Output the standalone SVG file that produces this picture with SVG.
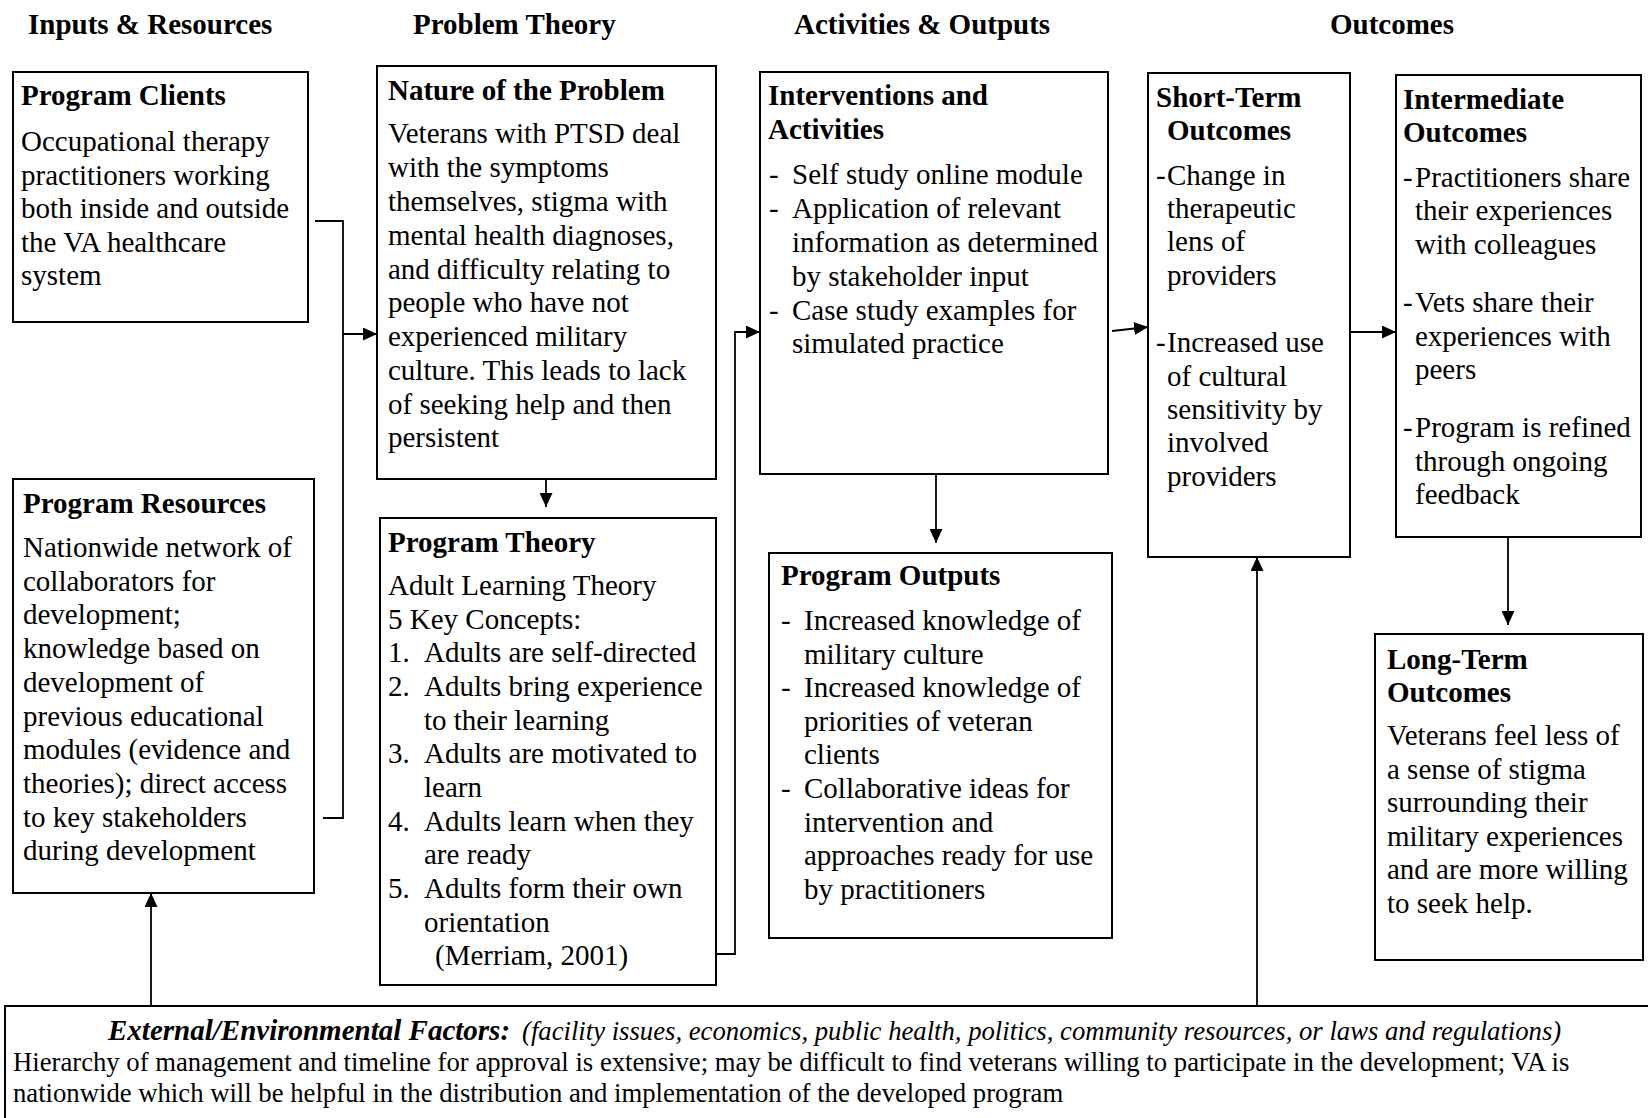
<svg xmlns="http://www.w3.org/2000/svg" width="1648" height="1118" viewBox="0 0 1648 1118">
<style>
text { font-family: "Liberation Serif", "Times New Roman", serif; font-size: 29px; fill: #000; }
.b { font-weight: bold; }
.box { fill: #fff; stroke: #000; stroke-width: 2; }
.con { fill: none; stroke: #000; stroke-width: 1.8; }
.sm { font-size: 26.7px; }
</style>
<defs>
<marker id="arr" markerUnits="userSpaceOnUse" markerWidth="14" markerHeight="13" refX="14" refY="6.5" orient="auto">
<path d="M0,0 L14,6.5 L0,13 Z" fill="#000"/>
</marker>
</defs>
<rect width="1648" height="1118" fill="#fff"/>

<g id="headers">
<text class="b" x="28" y="34">Inputs &amp; Resources</text>
<text class="b" x="413" y="34">Problem Theory</text>
<text class="b" x="794" y="34">Activities &amp; Outputs</text>
<text class="b" x="1330" y="34">Outcomes</text>
</g>

<g id="connectors">
<polyline class="con" points="315,221 343,221 343,818 323,818"/>
<line class="con" x1="343" y1="334" x2="377" y2="334" marker-end="url(#arr)"/>
<line class="con" x1="546" y1="479" x2="546" y2="507" marker-end="url(#arr)"/>
<polyline class="con" points="716,954 735,954 735,332 760,332" marker-end="url(#arr)"/>
<line class="con" x1="936" y1="474" x2="936" y2="543" marker-end="url(#arr)"/>
<line class="con" x1="1112" y1="331" x2="1148" y2="327" marker-end="url(#arr)"/>
<line class="con" x1="1351" y1="332" x2="1396" y2="332" marker-end="url(#arr)"/>
<line class="con" x1="1508" y1="537" x2="1508" y2="625" marker-end="url(#arr)"/>
<line class="con" x1="151" y1="1006" x2="151" y2="893" marker-end="url(#arr)"/>
<line class="con" x1="1257" y1="1006" x2="1257" y2="557" marker-end="url(#arr)"/>
</g>

<g id="program-clients">
<rect class="box" x="13" y="72" width="295" height="250"/>
<text class="b" x="21" y="105">Program Clients</text>
<text x="21" y="151">Occupational therapy</text>
<text x="21" y="184.5">practitioners working</text>
<text x="21" y="218">both inside and outside</text>
<text x="21" y="251.5">the VA healthcare</text>
<text x="21" y="285">system</text>
</g>

<g id="program-resources">
<rect class="box" x="13" y="479" width="301" height="414"/>
<text class="b" x="23" y="513">Program Resources</text>
<text x="23" y="557">Nationwide network of</text>
<text x="23" y="590.7">collaborators for</text>
<text x="23" y="624.4">development;</text>
<text x="23" y="658.1">knowledge based on</text>
<text x="23" y="691.8">development of</text>
<text x="23" y="725.5">previous educational</text>
<text x="23" y="759.2">modules (evidence and</text>
<text x="23" y="792.9">theories); direct access</text>
<text x="23" y="826.6">to key stakeholders</text>
<text x="23" y="860.3">during development</text>
</g>

<g id="nature-of-problem">
<rect class="box" x="377" y="66" width="339" height="413"/>
<text class="b" x="388" y="100">Nature of the Problem</text>
<text x="388" y="143">Veterans with PTSD deal</text>
<text x="388" y="177">with the symptoms</text>
<text x="388" y="211">themselves, stigma with</text>
<text x="388" y="244.5">mental health diagnoses,</text>
<text x="388" y="278.5">and difficulty relating to</text>
<text x="388" y="312">people who have not</text>
<text x="388" y="346">experienced military</text>
<text x="388" y="380">culture. This leads to lack</text>
<text x="388" y="413.5">of seeking help and then</text>
<text x="388" y="447">persistent</text>
</g>

<g id="program-theory">
<rect class="box" x="380" y="518" width="336" height="467"/>
<text class="b" x="388" y="552">Program Theory</text>
<text x="388" y="595">Adult Learning Theory</text>
<text x="388" y="628.5">5 Key Concepts:</text>
<text x="388" y="662">1.</text><text x="424" y="662">Adults are self-directed</text>
<text x="388" y="696">2.</text><text x="424" y="696">Adults bring experience</text>
<text x="424" y="729.5">to their learning</text>
<text x="388" y="763">3.</text><text x="424" y="763">Adults are motivated to</text>
<text x="424" y="797">learn</text>
<text x="388" y="831">4.</text><text x="424" y="831">Adults learn when they</text>
<text x="424" y="864">are ready</text>
<text x="388" y="898">5.</text><text x="424" y="898">Adults form their own</text>
<text x="424" y="932">orientation</text>
<text x="435" y="965">(Merriam, 2001)</text>
</g>

<g id="interventions">
<rect class="box" x="760" y="72" width="348" height="402"/>
<text class="b" x="768" y="105">Interventions and</text>
<text class="b" x="768" y="139">Activities</text>
<text x="769" y="184">-</text><text x="792" y="184">Self study online module</text>
<text x="769" y="218">-</text><text x="792" y="218">Application of relevant</text>
<text x="792" y="252">information as determined</text>
<text x="792" y="286">by stakeholder input</text>
<text x="769" y="319.5">-</text><text x="792" y="319.5">Case study examples for</text>
<text x="792" y="353">simulated practice</text>
</g>

<g id="program-outputs">
<rect class="box" x="769" y="553" width="343" height="385"/>
<text class="b" x="781" y="585">Program Outputs</text>
<text x="781" y="630">-</text><text x="804" y="630">Increased knowledge of</text>
<text x="804" y="663.5">military culture</text>
<text x="781" y="697">-</text><text x="804" y="697">Increased knowledge of</text>
<text x="804" y="730.5">priorities of veteran</text>
<text x="804" y="764">clients</text>
<text x="781" y="798">-</text><text x="804" y="798">Collaborative ideas for</text>
<text x="804" y="831.5">intervention and</text>
<text x="804" y="865">approaches ready for use</text>
<text x="804" y="898.5">by practitioners</text>
</g>

<g id="short-term">
<rect class="box" x="1148" y="73" width="202" height="484"/>
<text class="b" x="1156" y="107">Short-Term</text>
<text class="b" x="1167" y="140">Outcomes</text>
<text x="1156" y="184.5">-</text><text x="1167" y="184.5">Change in</text>
<text x="1167" y="218">therapeutic</text>
<text x="1167" y="251">lens of</text>
<text x="1167" y="284.5">providers</text>
<text x="1156" y="352">-</text><text x="1167" y="352">Increased use</text>
<text x="1167" y="385.5">of cultural</text>
<text x="1167" y="419">sensitivity by</text>
<text x="1167" y="452">involved</text>
<text x="1167" y="485.5">providers</text>
</g>

<g id="intermediate">
<rect class="box" x="1396" y="75" width="245" height="462"/>
<text class="b" x="1403" y="108.5">Intermediate</text>
<text class="b" x="1403" y="142">Outcomes</text>
<text x="1403" y="187">-</text><text x="1415" y="187">Practitioners share</text>
<text x="1415" y="220">their experiences</text>
<text x="1415" y="253.5">with colleagues</text>
<text x="1403" y="312">-</text><text x="1415" y="312">Vets share their</text>
<text x="1415" y="346">experiences with</text>
<text x="1415" y="378.5">peers</text>
<text x="1403" y="437">-</text><text x="1415" y="437">Program is refined</text>
<text x="1415" y="470.5">through ongoing</text>
<text x="1415" y="503.5">feedback</text>
</g>

<g id="long-term">
<rect class="box" x="1375" y="634" width="268" height="326"/>
<text class="b" x="1387" y="668.5">Long-Term</text>
<text class="b" x="1387" y="702">Outcomes</text>
<text x="1387" y="745">Veterans feel less of</text>
<text x="1387" y="778.6">a sense of stigma</text>
<text x="1387" y="812.2">surrounding their</text>
<text x="1387" y="845.8">military experiences</text>
<text x="1387" y="879.4">and are more willing</text>
<text x="1387" y="913">to seek help.</text>
</g>

<g id="external-factors">
<rect class="box" x="5" y="1006" width="1660" height="130"/>
<text x="108" y="1040"><tspan font-weight="bold" font-style="italic">External/Environmental Factors:</tspan><tspan class="sm" font-style="italic" x="522">(facility issues, economics, public health, politics, community resources, or laws and regulations)</tspan></text>
<text class="sm" x="13" y="1071">Hierarchy of management and timeline for approval is extensive; may be difficult to find veterans willing to participate in the development; VA is</text>
<text class="sm" x="13" y="1102">nationwide which will be helpful in the distribution and implementation of the developed program</text>
</g>
</svg>
